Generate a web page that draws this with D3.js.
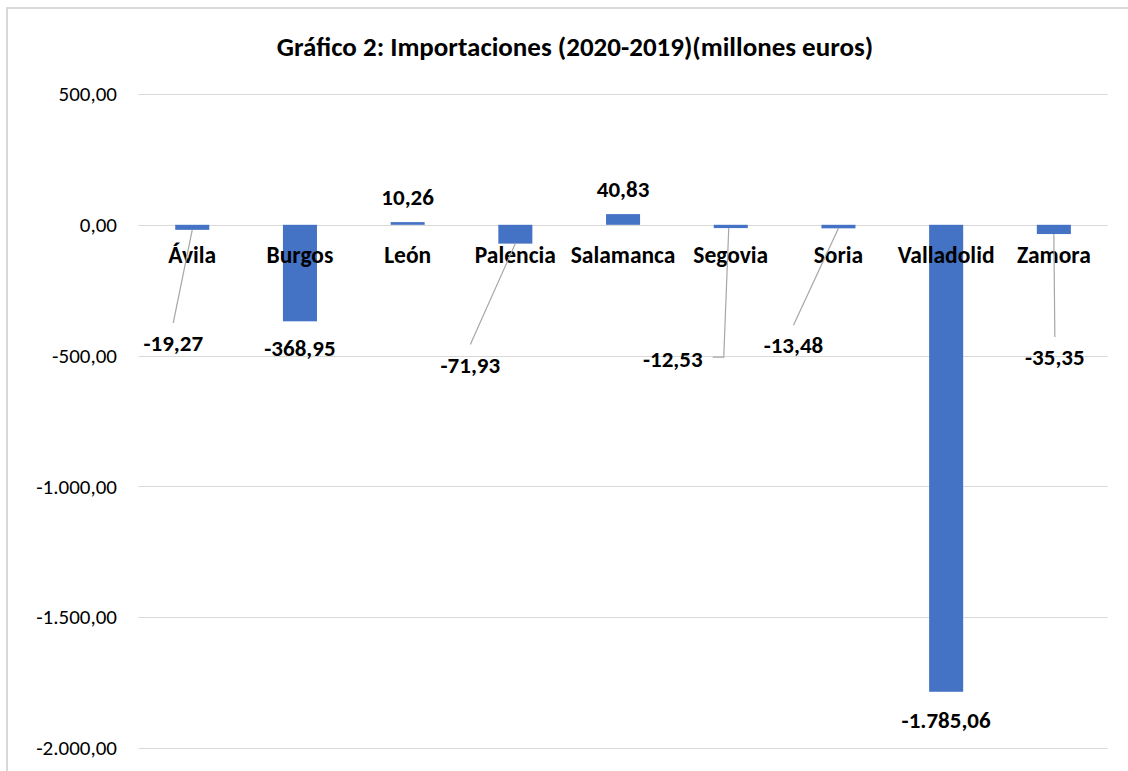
<!DOCTYPE html>
<html>
<head>
<meta charset="utf-8">
<script src="https://cdn.jsdelivr.net/npm/d3@7"></script>
<style>
  html, body { margin: 0; padding: 0; background: #fff; }
  svg { display: block; font-family: Carlito, Lato, "Open Sans", sans-serif; }
</style>
</head>
<body>
<svg id="chart" width="1128" height="771"></svg>
<script>
// ---- data ----
const titleText = "Gráfico 2: Importaciones (2020-2019)(millones euros)";
const categories = ["Ávila", "Burgos", "León", "Palencia", "Salamanca", "Segovia", "Soria", "Valladolid", "Zamora"];
const values = [-19.27, -368.95, 10.26, -71.93, 40.83, -12.53, -13.48, -1785.06, -35.35];
const yTicks = [500, 0, -500, -1000, -1500, -2000];

// label offsets (manual placement as in original), relative to bar end: [dx, dy, leader type]
const labelOffsets = [
  [-19, 113, "line"], [0, 27, "none"], [0, -25, "none"], [-45, 121, "line"], [0, -25, "none"],
  [-58, 131, "elbow"], [-45, 117, "line"], [0, 28, "none"], [1, 123, "line"]
];

// ---- layout ----
const W = 1128, H = 771;
const plot = { left: 138.4, right: 1107.7, top: 94, bottom: 748 };
const svg = d3.select("#chart");

const es = d3.formatLocale({ decimal: ",", thousands: ".", grouping: [3], currency: ["", " €"], minus: "-" });
const fmt = es.format(",.2f");

const x = d3.scaleBand().domain(categories).range([plot.left, plot.right])
  .paddingInner(0.684).paddingOuter(0.342);
const y = d3.scaleLinear().domain([-2000, 500]).range([plot.bottom, plot.top]);

svg.append("rect").attr("x", 0).attr("y", 0).attr("width", W).attr("height", H).attr("fill", "#fff");
// outer chart border
svg.append("rect").attr("x", 7).attr("y", 8).attr("width", 1400).attr("height", 1000)
  .attr("fill", "none").attr("stroke", "#D9D9D9").attr("stroke-width", 2);

// title
svg.append("text").attr("x", 575).attr("y", 46).attr("text-anchor", "middle")
  .attr("dominant-baseline", "central").attr("font-weight", "bold").attr("font-size", 27)
  .attr("fill", "#000").text(titleText);

// gridlines
svg.append("g").selectAll("line").data(yTicks).join("line")
  .attr("x1", plot.left).attr("x2", plot.right)
  .attr("y1", d => Math.round(y(d)) + 0.5).attr("y2", d => Math.round(y(d)) + 0.5)
  .attr("stroke", "#D9D9D9").attr("stroke-width", 1);

// y axis labels
const yAxis = d3.axisLeft(y).tickValues(yTicks).tickFormat(fmt).tickSize(0).tickPadding(0);
const gy = svg.append("g").attr("transform", `translate(117,0)`).call(yAxis);
gy.select(".domain").remove();
gy.selectAll("text").attr("font-size", 21).attr("fill", "#000")
  .attr("font-family", "Carlito, Lato, 'Open Sans', sans-serif");

// bars
svg.append("g").selectAll("rect").data(values).join("rect")
  .attr("x", (d, i) => x(categories[i]))
  .attr("width", x.bandwidth())
  .attr("y", d => y(Math.max(0, d)))
  .attr("height", d => Math.abs(y(d) - y(0)))
  .attr("fill", "#4472C4");

// category labels
svg.append("g").selectAll("text").data(categories).join("text")
  .attr("x", d => x(d) + x.bandwidth() / 2)
  .attr("y", 255).attr("text-anchor", "middle").attr("dominant-baseline", "central")
  .attr("font-weight", "bold").attr("font-size", 23.5).attr("fill", "#000")
  .text(d => d);

// leader lines and data labels
const lab = values.map((v, i) => {
  const cx = x(categories[i]) + x.bandwidth() / 2;
  const ey = y(v);
  const o = labelOffsets[i];
  return { v, cx, ey, lx: cx + o[0], ly: ey + o[1], type: o[2] };
});

const lg = svg.append("g").attr("fill", "none").attr("stroke", "#A6A6A6").attr("stroke-width", 1.2);
lab.forEach(d => {
  if (d.type === "line") {
    lg.append("line").attr("x1", d.lx).attr("y1", d.ly - 20).attr("x2", d.cx).attr("y2", d.ey);
  } else if (d.type === "elbow") {
    lg.append("polyline").attr("points", [[d.lx + 40, d.ly - 2], [d.lx + 51, d.ly - 2], [d.cx - 2, d.ey]].map(p => p.join(",")).join(" "));
  }
});

svg.append("g").selectAll("text").data(lab).join("text")
  .attr("x", d => d.lx).attr("y", d => d.ly)
  .attr("text-anchor", "middle").attr("dominant-baseline", "central")
  .attr("font-weight", "bold").attr("font-size", 23).attr("fill", "#000")
  .text(d => fmt(d.v));
</script>
</body>
</html>
